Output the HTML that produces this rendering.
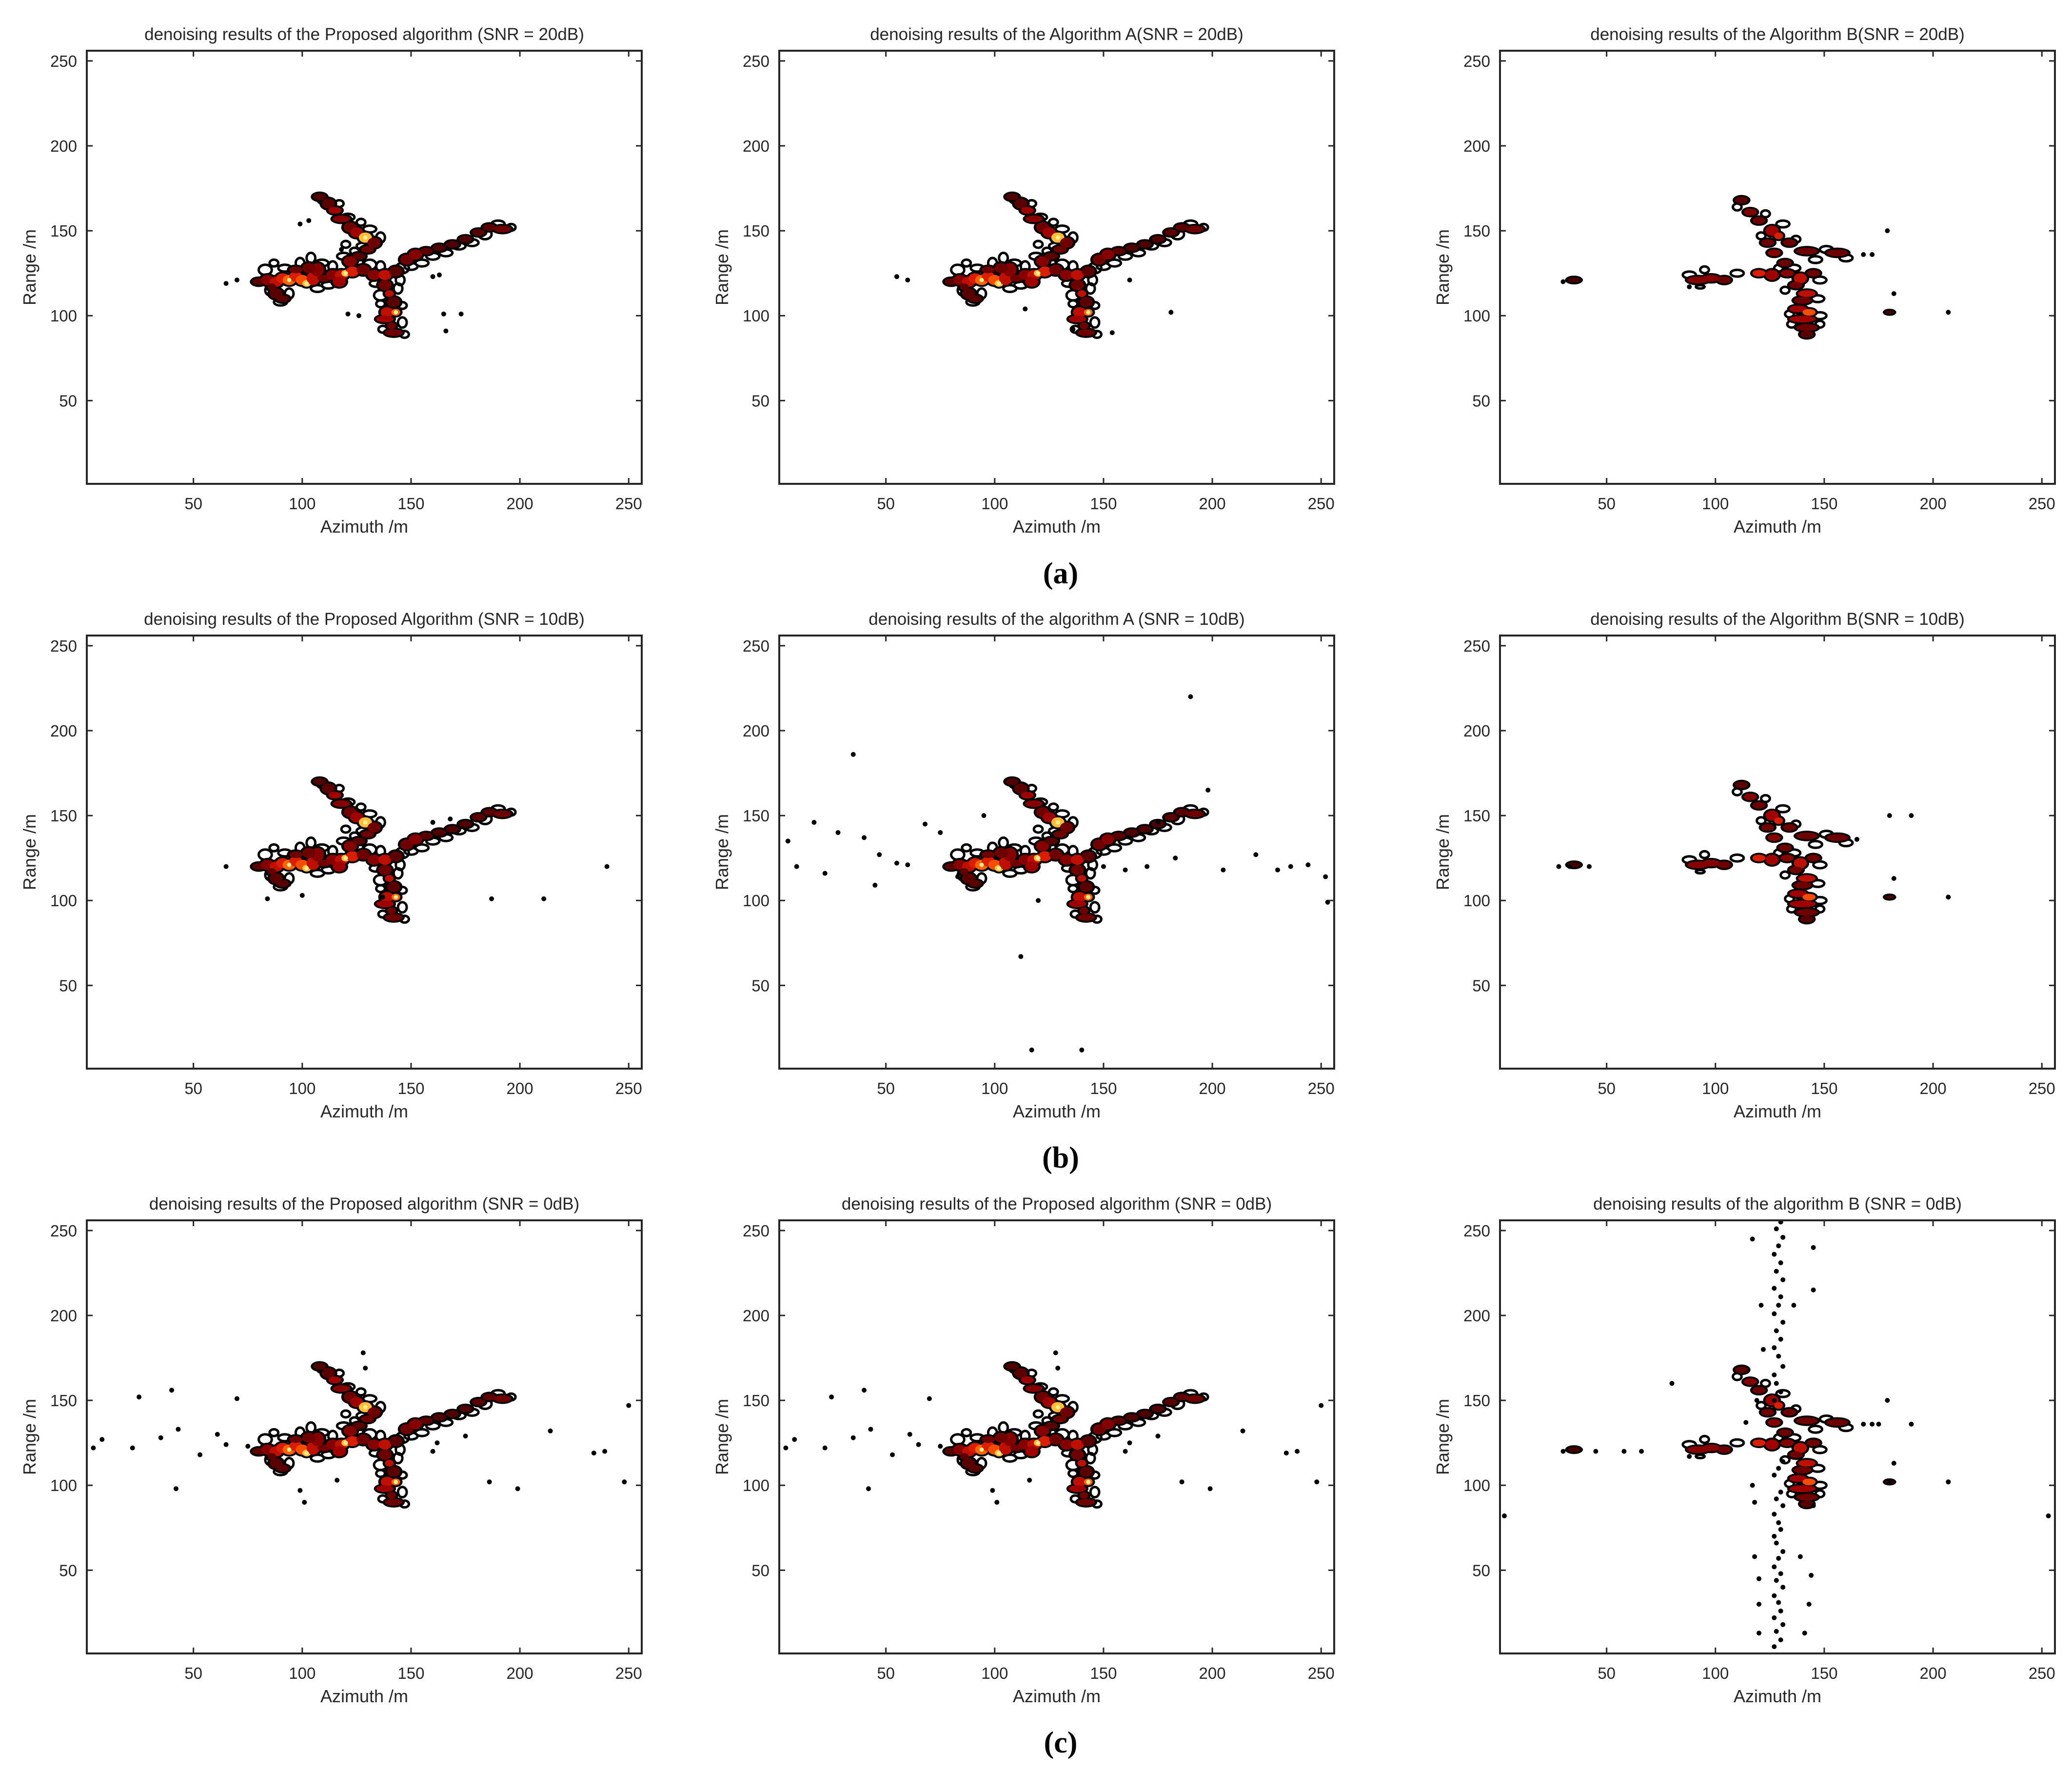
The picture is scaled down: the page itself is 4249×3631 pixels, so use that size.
<!DOCTYPE html>
<html><head><meta charset="utf-8"><title>Denoising results</title>
<style>
html,body{margin:0;padding:0;background:#fff;}
svg{display:block;}
text{font-family:"Liberation Sans",sans-serif;fill:#262626;}
</style></head>
<body>
<svg id="fig" width="4249" height="3631" viewBox="0 0 4249 3631" xmlns="http://www.w3.org/2000/svg">
<text x="2175" y="1196" text-anchor="middle" style="font-family:'Liberation Serif',serif;font-size:62px;font-weight:bold;fill:#000">(a)</text>
<text x="2175" y="2394" text-anchor="middle" style="font-family:'Liberation Serif',serif;font-size:62px;font-weight:bold;fill:#000">(b)</text>
<text x="2175" y="3593" text-anchor="middle" style="font-family:'Liberation Serif',serif;font-size:62px;font-weight:bold;fill:#000">(c)</text>
</svg>
<script>
// ---- data (x, y in metres; rx, ry blob radii; intensity 0..1) ----
const xTicks = [50,100,150,200,250];
const yTicks = [50,100,150,200,250];
const titles = [
 "denoising results of the Proposed algorithm (SNR = 20dB)",
 "denoising results of the Algorithm A(SNR = 20dB)",
 "denoising results of the Algorithm B(SNR = 20dB)",
 "denoising results of the Proposed Algorithm (SNR = 10dB)",
 "denoising results of the algorithm A (SNR = 10dB)",
 "denoising results of the Algorithm B(SNR = 10dB)",
 "denoising results of the Proposed algorithm (SNR = 0dB)",
 "denoising results of the Proposed algorithm (SNR = 0dB)",
 "denoising results of the algorithm B (SNR = 0dB)"
];
const planeBlobs = [
 [80,120,3,2,0.2],[84,121,3,3,0.4],[88,120,3,3,0.6],[91,122,3,3,0.7],[94,121,3,3,0.85],[97,123,3,3,0.7],
 [100,121,3,3,0.8],[102,119,2,2,0.95],[105,122,3,4,0.6],[107,127,3,4,0.4],[103,128,3,3,0.3],[97,127,3,2,0.3],
 [110,122,3,2,0.3],[114,124,3,3,0.4],[118,124,3,3,0.6],[120,125,2,2,0.95],[123,126,3,3,0.7],[117,120,3,3,0.5],
 [122,132,3,3,0.4],[128,127,3,3,0.3],[133,124,3,3,0.4],[138,124,3,3,0.6],[143,126,3,3,0.2],
 [88,113,3,3,0.2],[91,110,3,2,0.2],[86,117,2,2,0.2],
 [108,170,3,2,0.15],[112,166,3,3,0.2],[115,162,3,2,0.5],[118,157,4,2,0.4],[122,152,3,3,0.3],[125,149,3,3,0.5],
 [129,146,3,3,0.95],[133,143,3,3,0.3],[130,139,3,2,0.3],[126,135,3,2,0.2],
 [148,133,3,3,0.3],[152,136,3,3,0.4],[157,138,3,2,0.2],[163,140,3,2,0.15],[169,142,3,2,0.15],[175,145,3,2,0.15],
 [181,149,3,2,0.2],[186,152,3,2,0.2],[192,151,4,2,0.3],
 [138,118,3,3,0.3],[140,113,2,2,0.6],[142,108,3,3,0.2],[139,102,3,3,0.6],[143,102,2,2,0.85],[138,98,4,2,0.5],
 [141,94,2,2,0.3],[142,90,4,2,0.3]
];
// contour rings (x, y, rx, ry) – outline-only loops around the target
const planeRings = [
 [83,127,3,3],[87,131,2,2],[92,128,3,2],[85,115,2,3],[90,108,3,2],[94,113,2,3],[99,131,2,3],[104,134,2,3],
 [109,131,3,2],[112,118,3,2],[107,116,3,2],[114,129,2,3],[119,135,3,2],[126,131,2,3],[131,130,3,3],[136,129,2,3],
 [134,119,3,2],[145,121,2,3],[146,128,3,3],[150,129,3,2],[155,131,3,2],[160,135,3,2],[166,137,3,2],[172,141,3,2],
 [178,143,3,2],[184,148,3,3],[190,154,3,2],[196,152,2,2],[110,168,3,2],[117,166,2,2],[121,158,3,2],[127,155,2,2],
 [131,151,3,2],[136,146,2,3],[128,141,3,2],[136,112,3,3],[144,116,2,3],[146,106,2,2],[136,107,2,2],[146,96,2,3],
 [137,92,2,2],[147,89,2,2],[124,138,2,2],[120,142,2,2]
];
const bBlobs = [
 [112,168,3,2,0.2],[116,161,3,2,0.4],[120,156,3,2,0.3],[126,150,3,3,0.5],[129,147,2,2,0.7],[124,143,3,2,0.3],
 [134,143,3,2,0.3],[127,137,3,2,0.4],[142,138,5,2,0.3],[156,137,5,2,0.3],[132,131,3,2,0.3],[98,122,4,2,0.4],
 [92,121,5,2,0.4],[104,121,3,2,0.3],[120,125,3,2,0.7],[126,124,3,3,0.5],[133,125,3,2,0.4],[139,122,3,3,0.6],
 [145,125,3,2,0.3],[137,118,3,2,0.3],[142,113,4,2,0.6],[140,109,4,2,0.3],[138,104,4,2,0.5],[143,102,3,2,0.8],
 [140,98,6,2,0.5],[142,93,5,2,0.3],[142,89,3,2,0.2],[35,121,3,1.5,0.1],[180,102,2,1,0.1]
];
const bRings = [
 [110,164,2,2],[123,160,2,2],[131,154,3,2],[121,147,2,2],[137,145,2,2],[146,133,3,2],[151,139,3,2],[160,134,3,2],
 [88,124,3,2],[95,127,2,2],[110,125,3,2],[129,128,2,2],[136,128,3,2],[148,121,3,2],[132,115,2,2],[147,110,3,2],
 [134,101,2,2],[148,100,3,2],[135,95,2,2],[148,95,2,2],[93,117,2,1]
];
const noise1 = [[65,119],[70,121],[99,154],[103,156],[121,101],[126,100],[160,123],[163,124],[165,101],[173,101],[166,91],[118,139]];
const noise2 = [[55,123],[60,121],[114,104],[136,92],[154,90],[181,102],[162,121]];
const noise3 = [[30,120],[179,150],[182,113],[207,102],[168,136],[172,136],[88,117]];
const noise4 = [[65,120],[84,101],[100,103],[137,102],[187,101],[211,101],[240,120],[160,146],[168,148]];
const noise5 = [[5,135],[9,120],[17,146],[22,116],[28,140],[35,186],[40,137],[45,109],[47,127],[55,122],[60,121],[68,145],[75,140],[83,114],[95,150],[120,100],[112,67],[117,12],[140,12],[170,120],[175,146],[190,220],[198,165],[205,118],[220,127],[230,118],[236,120],[244,121],[252,114],[253,99],[150,120],[160,118],[183,125]];
const noise6 = [[28,120],[33,120],[42,120],[180,150],[190,150],[182,113],[207,102],[165,136]];
const noise7 = [[4,122],[8,127],[22,122],[25,152],[35,128],[40,156],[43,133],[42,98],[53,118],[61,130],[65,124],[70,151],[75,123],[99,97],[101,90],[116,103],[128,178],[129,169],[162,125],[175,129],[186,102],[199,98],[214,132],[234,119],[239,120],[248,102],[250,147],[160,120]];
const noise9 = [[127,5],[130,9],[128,14],[131,18],[127,22],[130,26],[129,31],[127,35],[131,40],[128,44],[130,48],[127,52],[129,57],[131,61],[128,66],[127,70],[130,74],[129,78],[127,83],[131,88],[128,92],[130,96],[127,106],[129,110],[131,114],[127,150],[130,155],[128,160],[127,165],[131,170],[129,176],[127,181],[130,186],[128,191],[131,196],[127,201],[129,206],[130,211],[127,216],[131,221],[128,226],[130,231],[127,236],[129,241],[131,246],[128,251],[130,255],
 [118,58],[139,58],[117,100],[119,150],[122,180],[121,206],[136,206],[145,215],[145,240],[117,245],[120,30],[143,30],[120,45],[144,47],[118,90],[145,88],[114,137],[120,13],[141,13],[3,82],[253,82],[58,120],[66,120],[180,102],[207,102],[190,136],[175,136],[45,120],[80,160]];
const panelBlobs = [planeBlobs, planeBlobs, bBlobs, planeBlobs, planeBlobs, bBlobs, planeBlobs, planeBlobs, bBlobs];
const panelRings = [planeRings, planeRings, bRings, planeRings, planeRings, bRings, planeRings, planeRings, bRings];
const panelNoise = [noise1, noise2, noise3, noise4, noise5, noise6, noise7, noise7, noise9.concat(noise3)];

// ---- layout ----
const lefts = [178, 1598, 3076], tops = [104, 1303, 2502];
const W = 1138, H = 888;
const NS = "http://www.w3.org/2000/svg";
const fig = document.getElementById('fig');
function mk(tag, attrs, parent){ const e=document.createElementNS(NS,tag); for(const k in attrs) e.setAttribute(k,attrs[k]); (parent||fig).appendChild(e); return e; }
function hot(v){
  const stops=[[0,[50,0,0]],[0.3,[110,0,0]],[0.5,[160,0,0]],[0.7,[220,30,0]],[0.85,[255,100,0]],[1,[255,235,80]]];
  for(let i=1;i<stops.length;i++){ if(v<=stops[i][0]){ const a=stops[i-1],b=stops[i],t=(v-a[0])/(b[0]-a[0]); const c=a[1].map((q,j)=>Math.round(q+(b[1][j]-q)*t)); return `rgb(${c[0]},${c[1]},${c[2]})`; } }
  return 'rgb(255,235,80)';
}
for(let p=0;p<9;p++){
  const L=lefts[p%3], T=tops[Math.floor(p/3)];
  const sx=x=>L+(x-1)/255*W, sy=y=>T+(256-y)/255*H;
  const kx=W/255, ky=H/255;
  const g=mk('g',{});
  
  
  const t=mk('text',{x:L+W/2,y:T-22,'text-anchor':'middle','font-size':35},g);
  t.textContent=titles[p];
  
  
  const marks=mk('g',{},g);
  
  
  panelRings[p].forEach(r=>{ const c=mk('ellipse',{cx:sx(r[0]),cy:sy(r[1]),rx:r[2]*kx,ry:r[3]*ky,fill:'none',stroke:'#000','stroke-width':5},marks);
      });
  const blobs=panelBlobs[p];
  blobs.forEach(b=>{ const o=mk('ellipse',{cx:sx(b[0]),cy:sy(b[1]),rx:(b[2]+1.1)*kx,ry:(b[3]+1.1)*ky,fill:'#000'},marks);
      });
  blobs.forEach(b=>{ const f=mk('ellipse',{cx:sx(b[0]),cy:sy(b[1]),rx:b[2]*kx,ry:b[3]*ky,fill:hot(b[4])},marks);
      });
  blobs.filter(b=>b[4]>0.8).forEach(b=>{ const h=mk('circle',{cx:sx(b[0]),cy:sy(b[1]),r:1*kx,fill:'#ffef90'},marks);
      });
  panelNoise[p].forEach(n=>{ const d=mk('circle',{cx:sx(n[0]),cy:sy(n[1]),r:5,fill:'#000'},marks);
      });
  const fr=mk('rect',{x:L,y:T,width:W,height:H,fill:'none',stroke:'#262626','stroke-width':4},g);
   
  xTicks.forEach(v=>{ const x=sx(v);
    mk('line',{x1:x,y1:T+H,x2:x,y2:T+H-12,stroke:'#262626','stroke-width':3},g);
    mk('line',{x1:x,y1:T,x2:x,y2:T+12,stroke:'#262626','stroke-width':3},g);
    const tl=mk('text',{x:x,y:T+H+52,'text-anchor':'middle','font-size':33},g); tl.textContent=v;
      });
  yTicks.forEach(v=>{ const y=sy(v);
    mk('line',{x1:L,y1:y,x2:L+12,y2:y,stroke:'#262626','stroke-width':3},g);
    mk('line',{x1:L+W,y1:y,x2:L+W-12,y2:y,stroke:'#262626','stroke-width':3},g);
    const tl=mk('text',{x:L-20,y:y+12,'text-anchor':'end','font-size':33},g); tl.textContent=v;
      });
  const xl=mk('text',{x:L+W/2,y:T+H+100,'text-anchor':'middle','font-size':36},g); xl.textContent='Azimuth /m';
   
  const yl=mk('text',{x:0,y:0,'text-anchor':'middle','font-size':36,transform:`translate(${L-105},${T+H/2}) rotate(-90)`},g); yl.textContent='Range /m';
   
}
</script>
</body></html>
